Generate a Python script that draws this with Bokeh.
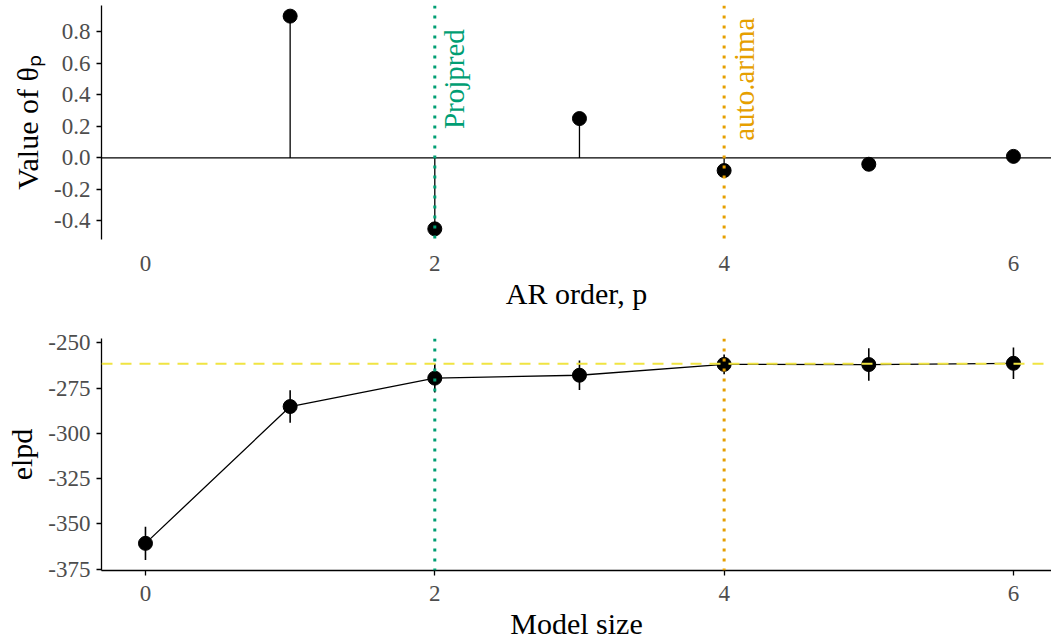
import numpy as np
from bokeh.plotting import figure
from bokeh.models import Range1d, FixedTicker, CustomJSTickFormatter, Span, Label, ColumnDataSource
from bokeh.layouts import column
from bokeh.embed import file_html
from bokeh.resources import INLINE

# ---- data ----
ar_order = [1, 2, 3, 4, 5, 6]
theta = [0.90, -0.45, 0.25, -0.08, -0.04, 0.01]

model_size = [0, 1, 2, 3, 4, 5, 6]
elpd = [-360.8, -285.2, -269.5, -267.9, -261.9, -262.0, -261.3]
elpd_se = [9.2, 9.0, 8.0, 8.2, 5.4, 9.0, 8.7]

ref_elpd = -261.5
projpred_choice = 2
autoarima_choice = 4

x_ticks = [0, 2, 4, 6]
theta_ticks = [-0.4, -0.2, 0.0, 0.2, 0.4, 0.6, 0.8]
elpd_ticks = [-375, -350, -325, -300, -275, -250]

FONT = "Liberation Serif"
GREEN = "#009E73"
ORANGE = "#E69F00"
YELLOW = "#F0E442"
TICK_COL = "#4D4D4D"


def style(p, xlabel, ylabel):
    p.xgrid.visible = False
    p.ygrid.visible = False
    p.outline_line_color = None
    p.background_fill_color = "white"
    p.border_fill_color = "white"
    for ax in (p.xaxis[0], p.yaxis[0]):
        ax.axis_line_color = "black"
        ax.axis_line_width = 1.3
        ax.major_tick_line_color = "black"
        ax.major_tick_line_width = 1.3
        ax.major_tick_out = 5
        ax.major_tick_in = 0
        ax.minor_tick_line_color = None
        ax.major_label_text_font = FONT
        ax.major_label_text_font_size = "23px"
        ax.major_label_text_color = TICK_COL
        ax.axis_label_text_font = FONT
        ax.axis_label_text_font_size = "30px"
        ax.axis_label_text_font_style = "normal"
        ax.axis_label_text_color = "black"
    p.xaxis.axis_label = xlabel
    p.yaxis.axis_label = ylabel
    p.xaxis.ticker = FixedTicker(ticks=x_ticks)
    p.xaxis.formatter = CustomJSTickFormatter(code="return tick.toFixed(0);")
    p.xaxis.major_label_standoff = 10
    p.xaxis.axis_label_standoff = 3
    p.yaxis.major_label_standoff = 6
    p.yaxis.axis_label_standoff = 7


X_RANGE = (-0.304, 6.263)

# ---- top panel ----
p1 = figure(width=1051, height=312, output_backend="svg", toolbar_location=None,
            x_range=Range1d(*X_RANGE), y_range=Range1d(-0.5175, 0.9675),
            min_border_left=101, min_border_right=0, min_border_top=5, min_border_bottom=0)
style(p1, "AR order, p", "Value of θₚ")
p1.xaxis.axis_line_color = None
p1.xaxis.major_tick_line_color = None
p1.xaxis.major_tick_out = 0
p1.xaxis.major_label_standoff = 16
p1.yaxis.ticker = FixedTicker(ticks=theta_ticks)
p1.yaxis.formatter = CustomJSTickFormatter(code="return tick.toFixed(1);")

src1 = ColumnDataSource(dict(x=ar_order, theta=theta))
p1.add_layout(Span(location=0, dimension="width", line_color="black", line_width=1.3, level="underlay"))
p1.segment(x0="x", y0=0, x1="x", y1="theta", source=src1, line_color="black", line_width=1.3)
p1.scatter(x="x", y="theta", source=src1, size=14, color="black")

p1.add_layout(Span(location=projpred_choice, dimension="height", line_color=GREEN,
                   line_width=3, line_dash="3 7"))
p1.add_layout(Span(location=autoarima_choice, dimension="height", line_color=ORANGE,
                   line_width=3, line_dash="3 7"))
p1.add_layout(Label(x=projpred_choice + 0.135, y=0.5, text="Projpred", angle=np.pi / 2,
                    text_align="center", text_baseline="middle", text_color=GREEN,
                    text_font=FONT, text_font_size="29px"))
p1.add_layout(Label(x=autoarima_choice + 0.135, y=0.5, text="auto.arima", angle=np.pi / 2,
                    text_align="center", text_baseline="middle", text_color=ORANGE,
                    text_font=FONT, text_font_size="29px"))

# ---- bottom panel ----
p2 = figure(width=1051, height=330, output_backend="svg", toolbar_location=None,
            x_range=Range1d(*X_RANGE), y_range=Range1d(-375.8, -247.6),
            min_border_left=101, min_border_right=0, min_border_top=26, min_border_bottom=0)
style(p2, "Model size", "elpd")
p2.yaxis.ticker = FixedTicker(ticks=elpd_ticks)
p2.yaxis.formatter = CustomJSTickFormatter(code="return tick.toFixed(0);")

lower = [m - s for m, s in zip(elpd, elpd_se)]
upper = [m + s for m, s in zip(elpd, elpd_se)]
src2 = ColumnDataSource(dict(x=model_size, elpd=elpd, lo=lower, hi=upper))
p2.line(x="x", y="elpd", source=src2, line_color="black", line_width=1.3)
p2.segment(x0="x", y0="lo", x1="x", y1="hi", source=src2, line_color="black", line_width=1.6)
p2.scatter(x="x", y="elpd", source=src2, size=14, color="black")

p2.add_layout(Span(location=ref_elpd, dimension="width", line_color=YELLOW,
                   line_width=2, line_dash="11 8"))
p2.add_layout(Span(location=projpred_choice, dimension="height", line_color=GREEN,
                   line_width=3, line_dash="3 7"))
p2.add_layout(Span(location=autoarima_choice, dimension="height", line_color=ORANGE,
                   line_width=3, line_dash="3 7"))

layout = column(p1, p2, spacing=0)
open("out.html", "w").write(file_html(layout, INLINE))
